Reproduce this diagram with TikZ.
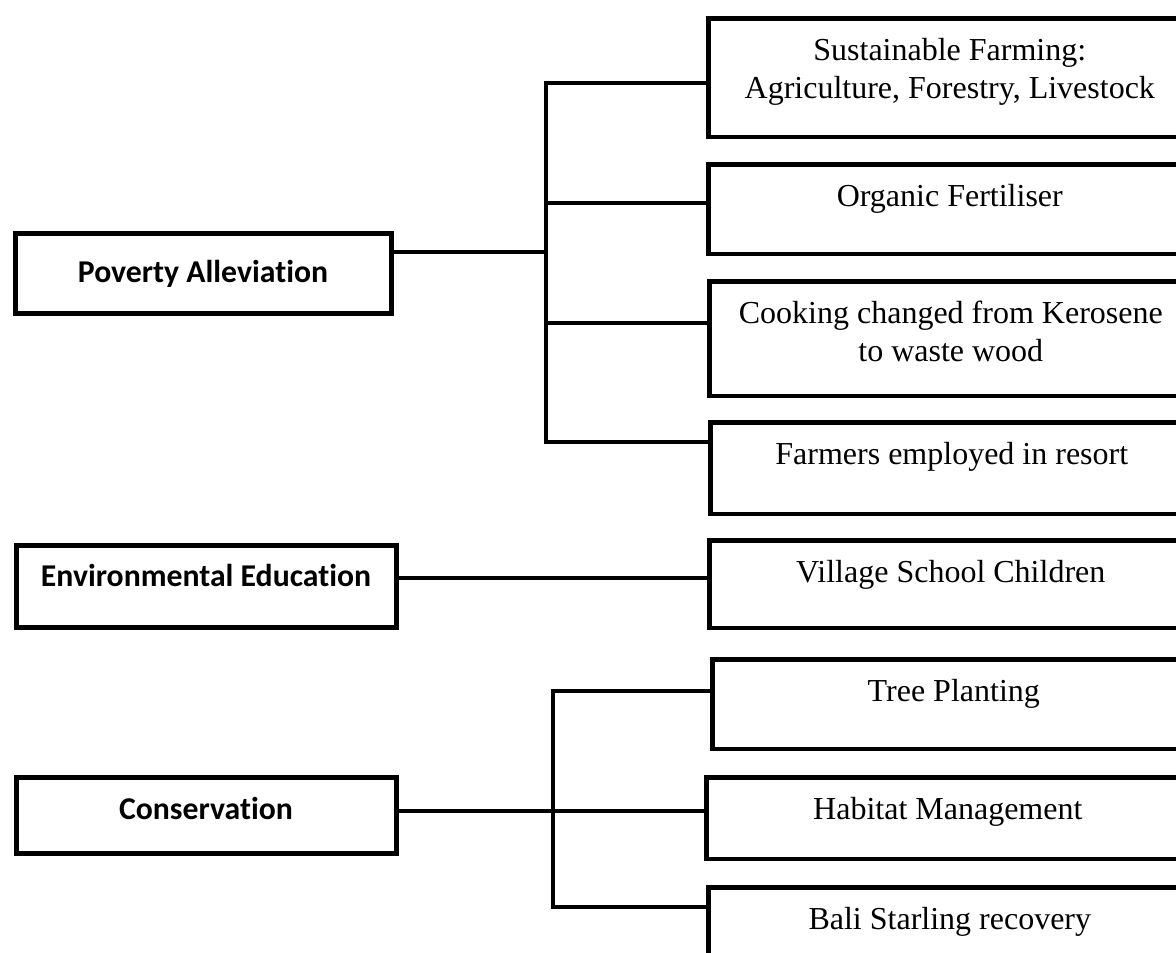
\documentclass[tikz,border=0pt]{standalone}
\usepackage{fontspec}
\setmainfont{Liberation Serif}
\newfontfamily\headfont{Carlito}[Ligatures=NoCommon]
\usepackage{tikz}

\tikzset{
  headbox/.style={draw, line width=3.75pt, anchor=north west, inner sep=0pt,
    minimum width=285pt, font=\headfont\bfseries\fontsize{23.8}{28}\selectfont},
  itembox/.style={draw, line width=3.6pt, anchor=north west, inner sep=0pt,
    minimum width=361.5pt, align=center,
    font=\fontsize{24}{28.5}\selectfont},
  link/.style={line width=2.3pt},
  mainlink/.style={line width=3.4pt}
}

\begin{document}
\begin{tikzpicture}[x=0.75pt, y=-0.75pt]
    \useasboundingbox (0,0) rectangle (1176,952);
    \clip (0,0) rectangle (1176,952);

    % Themes
    \node[headbox, minimum width=282pt, text height=37.1pt, text depth=23.6pt] (pov) at (12.5,230.5) {Poverty Alleviation};
    \node[headbox, text height=31.1pt, text depth=31.1pt] (env) at (13.5,542.5) {Environmental Education};
    \node[headbox, text height=31.9pt, text depth=25.1pt] (cons) at (13.5,774.5) {Conservation};

    % Activities (\nl = lines below the first)
    \foreach \name/\lx/\ty/\by/\nl/\txt in {
        farm/704/14/137/1/{Sustainable Farming:\\Agriculture, Forestry, Livestock},
        fert/704/160/254/0/{Organic Fertiliser},
        cook/705/277/396/1/{Cooking changed from Kerosene\\to waste wood},
        resort/706/418/514/0/{Farmers employed in resort},
        school/705/536/628/0/{Village School Children},
        tree/708/655/749/0/{Tree Planting},
        habitat/702/773/859/0/{Habitat Management},
        bali/704/883/985/0/{Bali Starling recovery}} {
        \pgfmathsetmacro\hgt{31.2+28.5*\nl}
        \pgfmathsetmacro\dep{(\by-\ty-4.8)*0.75-\hgt}
        \node[itembox, text height=\hgt pt, text depth=\dep pt] (\name) at (\lx+2.4,\ty+2.4) {\txt};
    }

    % Poverty branches
    \coordinate (povtop) at (546,83);
    \coordinate (povbot) at (546,442);
    \coordinate (povjoin) at (546,252);
    \draw[mainlink] (pov.east |- povjoin) -- (povjoin);
    \draw[link] (farm.west |- povtop) -- (povtop) -- (povbot) -- (resort.west |- povbot);
    \foreach \name/\cy in {fert/203, cook/323}
        \draw[link] (povtop |- 0,\cy) -- (\name.west |- 0,\cy);

    % Education branch
    \draw[link] (env.east |- 0,578) -- (school.west |- 0,578);

    % Conservation branches
    \coordinate (constop) at (553,691);
    \coordinate (consbot) at (553,907);
    \draw[link] (tree.west |- constop) -- (constop) -- (consbot) -- (bali.west |- consbot);
    \draw[link] (cons.east |- 0,811) -- (habitat.west |- 0,811);
\end{tikzpicture}
\end{document}
